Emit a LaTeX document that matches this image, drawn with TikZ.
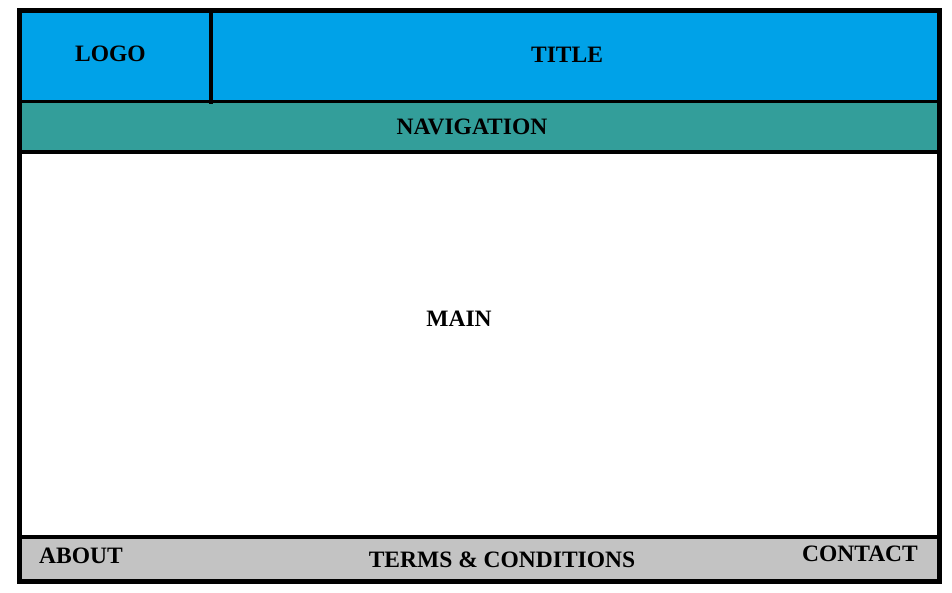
\documentclass[tikz,border=0pt]{standalone}
\usepackage{fontspec}
\setmainfont{Liberation Serif}
\usepackage{tikz}
\usetikzlibrary{positioning}
\definecolor{headblue}{RGB}{0,162,232}
\definecolor{navteal}{RGB}{51,158,154}
\definecolor{footgray}{RGB}{195,195,195}

\begin{document}
\begin{tikzpicture}[x=1pt,y=-1pt,
                every node/.style = {font=\fontsize{23.5}{27}\selectfont\bfseries, inner sep=0pt, outer sep=0pt},
                region/.style = {draw, line width=4pt, rectangle, anchor=north west},
                label/.style = {text=black}
                ]
                \useasboundingbox (0,0) rectangle (952,592);
                % header
                \node[region, fill=headblue, minimum width=191.5pt, minimum height=91pt] (logo) at (19.5,10.5) {};
                \node[region, fill=headblue, minimum width=728.5pt, minimum height=91pt] (title) at (211,10.5) {};
                % navigation and main
                \node[region, fill=navteal, line width=3.5pt, minimum width=920pt, minimum height=50.5pt] (nav) at (19.5,101.5) {};
                \node[region, fill=white, line width=3pt, minimum width=920pt, minimum height=385pt] (main) at (19.5,152) {};
                % footer
                \node[region, fill=footgray, minimum width=920pt, minimum height=44pt] (footer) at (19.5,537) {};
                \draw[line width=4pt] (logo.north east) -- ([yshift=-2pt]logo.south east);
                \draw[line width=5pt] (logo.north west) rectangle (footer.south east);
                % labels
                \node[label] (logotext) at (110.5,54) {LOGO};
                \node[label] (titletext) at (567,55) {TITLE};
                \node[label] (navtext) at (472,127) {NAVIGATION};
                \node[label] (maintext) at (459,319) {MAIN};
                \node[label] (about) at (81,556) {ABOUT};
                \node[label] (terms) at (502,560) {TERMS \& CONDITIONS};
                \node[label] (contact) at (860,554) {CONTACT};
            \end{tikzpicture}
\end{document}
